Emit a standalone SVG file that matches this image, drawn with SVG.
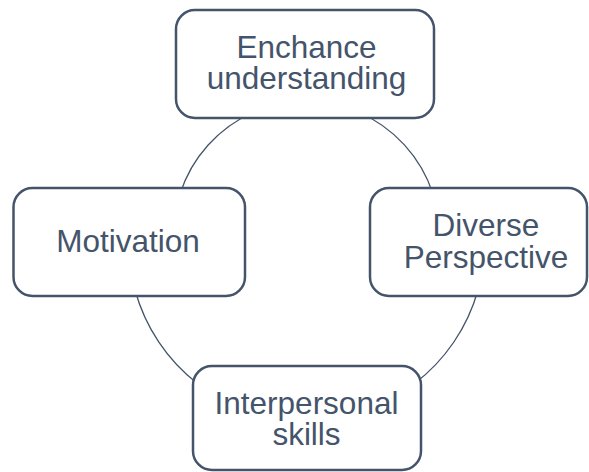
<svg xmlns="http://www.w3.org/2000/svg" width="589" height="472" viewBox="0 0 589 472">
  <style>
    .box { fill: #FFFFFF; stroke: #44546A; stroke-width: 2.5; }
    .lbl { font-family: "Liberation Sans", Arial, sans-serif; font-size: 31.5px; fill: #44546A; text-anchor: middle; }
    .arc { fill: none; stroke: #44546A; stroke-width: 1.3; }
  </style>
  <rect width="589" height="472" fill="#FFFFFF"/>

  <!-- cycle arcs linking the four boxes -->
  <g id="connectors">
    <path class="arc" d="M 254 112 A 134 134 0 0 0 180 194"/>
    <path class="arc" d="M 358 112 A 134 134 0 0 1 433 194"/>
    <path class="arc" d="M 135 290 A 178 178 0 0 0 198 384"/>
    <path class="arc" d="M 478 290 A 178 178 0 0 1 414 384"/>
  </g>

  <g id="node-understanding">
    <rect class="box" x="176" y="10" width="258" height="108" rx="19"/>
    <text class="lbl" x="306.5" y="57.5">Enchance<tspan x="306.5" dy="31.5">understanding</tspan></text>
  </g>

  <g id="node-motivation">
    <rect class="box" x="13.5" y="188" width="231.5" height="108" rx="19"/>
    <text class="lbl" x="128" y="251.5">Motivation</text>
  </g>

  <g id="node-perspective">
    <rect class="box" x="370" y="188" width="217" height="108" rx="19"/>
    <text class="lbl" x="486" y="235.5">Diverse<tspan x="486" dy="32.5">Perspective</tspan></text>
  </g>

  <g id="node-interpersonal">
    <rect class="box" x="193" y="366" width="228" height="104" rx="19"/>
    <text class="lbl" x="306.5" y="413.5">Interpersonal<tspan x="306.5" dy="31.5">skills</tspan></text>
  </g>
</svg>
